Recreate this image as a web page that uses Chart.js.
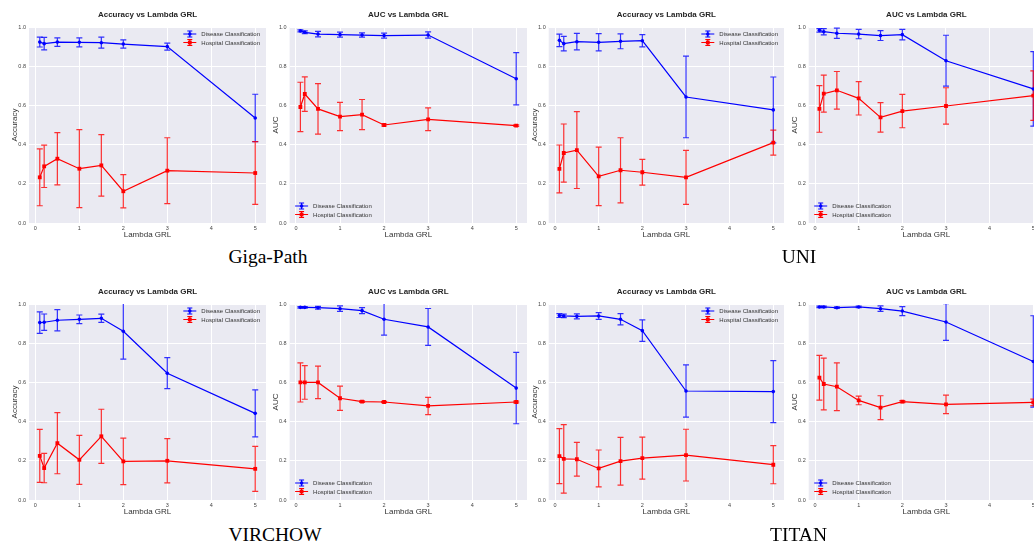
<!DOCTYPE html>
<html>
<head>
<meta charset="utf-8">
<script src="https://cdn.jsdelivr.net/npm/chart.js@4.4.0/dist/chart.umd.min.js"></script>
<style>
  html, body { margin: 0; padding: 0; background: #fff; overflow: hidden; width: 1034px; height: 543px; position: relative; }
  canvas { position: absolute; }
  .model { position: absolute; font-family: "Liberation Serif", serif; font-size: 19.5px; line-height: 20px; color: #000; transform: translateX(-50%); white-space: nowrap; }
</style>
</head>
<body>
<canvas id="p0" width="270" height="245"></canvas>
<canvas id="p1" width="270" height="245"></canvas>
<canvas id="p2" width="270" height="245"></canvas>
<canvas id="p3" width="270" height="245"></canvas>
<canvas id="p4" width="270" height="245"></canvas>
<canvas id="p5" width="270" height="245"></canvas>
<canvas id="p6" width="270" height="245"></canvas>
<canvas id="p7" width="270" height="245"></canvas>
<div class="model" style="left:268px;top:246.7px">Giga-Path</div>
<div class="model" style="left:799px;top:246.7px">UNI</div>
<div class="model" style="left:275px;top:525px">VIRCHOW</div>
<div class="model" style="left:798.5px;top:525px">TITAN</div>
<script>
// ── Data ──────────────────────────────────────────────────────────────────────
const lambdas     = [0.1, 0.2, 0.5, 1, 1.5, 2, 3, 5];
const seriesNames = ['Disease Classification', 'Hospital Classification'];
const xTicks      = [0, 1, 2, 3, 4, 5];
const yTicks      = [0, 0.2, 0.4, 0.6, 0.8, 1.0];

// Giga-Path
const gigaAccDisease     = [0.923, 0.915, 0.923, 0.922, 0.920, 0.913, 0.900, 0.536];
const gigaAccDiseaseErr  = [0.025, 0.032, 0.022, 0.023, 0.028, 0.021, 0.018, 0.121];
const gigaAccHospital    = [0.233, 0.289, 0.328, 0.277, 0.294, 0.162, 0.267, 0.255];
const gigaAccHospitalErr = [0.145, 0.108, 0.133, 0.199, 0.157, 0.085, 0.168, 0.160];
const gigaAucDisease     = [0.980, 0.973, 0.964, 0.961, 0.959, 0.956, 0.959, 0.736];
const gigaAucDiseaseErr  = [0.005, 0.007, 0.014, 0.013, 0.011, 0.013, 0.016, 0.133];
const gigaAucHospital    = [0.592, 0.658, 0.582, 0.543, 0.553, 0.500, 0.529, 0.497];
const gigaAucHospitalErr = [0.126, 0.088, 0.129, 0.072, 0.077, 0.005, 0.058, 0.004];

// UNI
const uniAccDisease      = [0.932, 0.915, 0.925, 0.922, 0.927, 0.930, 0.643, 0.577];
const uniAccDiseaseErr   = [0.032, 0.037, 0.042, 0.044, 0.038, 0.031, 0.208, 0.168];
const uniAccHospital     = [0.276, 0.357, 0.372, 0.238, 0.269, 0.259, 0.233, 0.410];
const uniAccHospitalErr  = [0.122, 0.148, 0.196, 0.149, 0.166, 0.066, 0.138, 0.064];
const uniAucDisease      = [0.983, 0.976, 0.968, 0.964, 0.956, 0.961, 0.828, 0.684];
const uniAucDiseaseErr   = [0.009, 0.016, 0.026, 0.024, 0.025, 0.027, 0.130, 0.190];
const uniAucHospital     = [0.582, 0.660, 0.677, 0.636, 0.539, 0.571, 0.597, 0.650];
const uniAucHospitalErr  = [0.119, 0.094, 0.096, 0.085, 0.075, 0.085, 0.093, 0.126];

// VIRCHOW
const virAccDisease      = [0.905, 0.907, 0.917, 0.922, 0.927, 0.861, 0.647, 0.442];
const virAccDiseaseErr   = [0.055, 0.042, 0.054, 0.022, 0.021, 0.142, 0.079, 0.120];
const virAccHospital     = [0.225, 0.163, 0.290, 0.205, 0.325, 0.197, 0.200, 0.159];
const virAccHospitalErr  = [0.135, 0.075, 0.156, 0.125, 0.138, 0.119, 0.113, 0.115];
const virAucDisease      = [0.983, 0.983, 0.981, 0.976, 0.966, 0.922, 0.883, 0.571];
const virAucDiseaseErr   = [0.004, 0.004, 0.007, 0.014, 0.015, 0.081, 0.094, 0.182];
const virAucHospital     = [0.600, 0.600, 0.600, 0.519, 0.502, 0.500, 0.480, 0.500];
const virAucHospitalErr  = [0.100, 0.086, 0.083, 0.062, 0.004, 0.003, 0.044, 0.004];

// TITAN
const titAccDisease      = [0.941, 0.939, 0.937, 0.939, 0.922, 0.864, 0.556, 0.553];
const titAccDiseaseErr   = [0.010, 0.009, 0.013, 0.017, 0.029, 0.055, 0.133, 0.158];
const titAccHospital     = [0.224, 0.210, 0.208, 0.161, 0.198, 0.214, 0.229, 0.180];
const titAccHospitalErr  = [0.140, 0.175, 0.086, 0.094, 0.122, 0.107, 0.132, 0.097];
const titAucDisease      = [0.985, 0.985, 0.981, 0.985, 0.976, 0.964, 0.908, 0.707];
const titAucDiseaseErr   = [0.004, 0.004, 0.004, 0.004, 0.014, 0.023, 0.094, 0.233];
const titAucHospital     = [0.624, 0.592, 0.578, 0.508, 0.471, 0.502, 0.488, 0.498];
const titAucHospitalErr  = [0.114, 0.132, 0.122, 0.022, 0.061, 0.005, 0.047, 0.017];

// ── Panels ────────────────────────────────────────────────────────────────────
const panels = [
  { metric: 'Accuracy', d: gigaAccDisease, de: gigaAccDiseaseErr, h: gigaAccHospital, he: gigaAccHospitalErr },
  { metric: 'AUC',      d: gigaAucDisease, de: gigaAucDiseaseErr, h: gigaAucHospital, he: gigaAucHospitalErr },
  { metric: 'Accuracy', d: uniAccDisease,  de: uniAccDiseaseErr,  h: uniAccHospital,  he: uniAccHospitalErr },
  { metric: 'AUC',      d: uniAucDisease,  de: uniAucDiseaseErr,  h: uniAucHospital,  he: uniAucHospitalErr },
  { metric: 'Accuracy', d: virAccDisease,  de: virAccDiseaseErr,  h: virAccHospital,  he: virAccHospitalErr },
  { metric: 'AUC',      d: virAucDisease,  de: virAucDiseaseErr,  h: virAucHospital,  he: virAucHospitalErr },
  { metric: 'Accuracy', d: titAccDisease,  de: titAccDiseaseErr,  h: titAccHospital,  he: titAccHospitalErr },
  { metric: 'AUC',      d: titAucDisease,  de: titAucDiseaseErr,  h: titAucHospital,  he: titAucHospitalErr },
];

// canvas placement per column / row
const colFrames = [
  { left: 0,   padL: 7,   padR: 4 },
  { left: 262, padL: 5.6, padR: 5 },
  { left: 520, padL: 6.7, padR: 6 },
  { left: 780, padL: 6.7, padR: 6 },
];
const rowTops = [0, 277];

const FONT = '"Liberation Sans", Arial, sans-serif';
const BLUE = '#0000ff';
const RED  = '#ff0000';

// ── Plugins ───────────────────────────────────────────────────────────────────
const panelBg = {
  id: 'panelBg',
  beforeDraw(chart) {
    const { ctx, chartArea: a } = chart;
    ctx.save();
    ctx.fillStyle = '#eaeaf2';
    ctx.fillRect(a.left, a.top, a.width, a.height);
    ctx.restore();
  },
};

const errorBars = {
  id: 'errorBars',
  beforeDatasetsDraw(chart) {
    const { ctx, chartArea: a, scales: { x, y } } = chart;
    ctx.save();
    ctx.beginPath();
    ctx.rect(a.left, a.top, a.width, a.height);
    ctx.clip();
    chart.data.datasets.forEach(ds => {
      ctx.strokeStyle = ds.borderColor;
      ctx.globalAlpha = 0.8;
      ctx.lineWidth = 1.2;
      ds.data.forEach((p, i) => {
        const px  = x.getPixelForValue(p.x);
        const top = y.getPixelForValue(p.y + ds.errors[i]);
        const bot = y.getPixelForValue(p.y - ds.errors[i]);
        ctx.beginPath();
        ctx.moveTo(px, top);     ctx.lineTo(px, bot);
        ctx.moveTo(px - 3, top); ctx.lineTo(px + 3, top);
        ctx.moveTo(px - 3, bot); ctx.lineTo(px + 3, bot);
        ctx.stroke();
      });
    });
    ctx.restore();
  },
};

const mplLegend = {
  id: 'mplLegend',
  afterDraw(chart, args, opts) {
    const { ctx, chartArea: a } = chart;
    const sets = chart.data.datasets;
    ctx.save();
    ctx.font = '6px ' + FONT;
    const w = Math.max(...sets.map(d => ctx.measureText(d.label).width));
    let tx, y0;
    if (opts.corner === 'upper right') { tx = a.right - 6 - w; y0 = a.top + 7; }
    else { tx = a.left + 23.5; y0 = a.bottom - 17; }
    sets.forEach((ds, i) => {
      const ly = y0 + i * 8.5;
      const x1 = tx - 18, x2 = tx - 5, xm = (x1 + x2) / 2;
      ctx.strokeStyle = ds.borderColor;
      ctx.fillStyle = ds.borderColor;
      ctx.lineWidth = 1.2;
      ctx.beginPath();
      ctx.moveTo(x1, ly); ctx.lineTo(x2, ly);
      ctx.moveTo(xm, ly - 3); ctx.lineTo(xm, ly + 3);
      ctx.moveTo(xm - 2.5, ly - 3); ctx.lineTo(xm + 2.5, ly - 3);
      ctx.moveTo(xm - 2.5, ly + 3); ctx.lineTo(xm + 2.5, ly + 3);
      ctx.stroke();
      if (ds.pointStyle === 'rect') ctx.fillRect(xm - 1.9, ly - 1.9, 3.8, 3.8);
      else { ctx.beginPath(); ctx.arc(xm, ly, 1.8, 0, Math.PI * 2); ctx.fill(); }
      ctx.fillStyle = '#333';
      ctx.textBaseline = 'middle';
      ctx.fillText(ds.label, tx, ly + 0.5);
    });
    ctx.restore();
  },
};

// ── Build charts ──────────────────────────────────────────────────────────────
panels.forEach((p, k) => {
  const f = colFrames[k % 4];
  const top = rowTops[Math.floor(k / 4)];
  const canvas = document.getElementById('p' + k);
  canvas.style.left = f.left + 'px';
  canvas.style.top = top + 'px';

  const tickStyle = { color: '#444', font: { family: FONT, size: 5.5 } };
  const gridStyle = { color: '#ffffff', lineWidth: 1, drawTicks: false };

  new Chart(canvas, {
    type: 'line',
    data: {
      datasets: [
        {
          label: seriesNames[0],
          data: lambdas.map((x, i) => ({ x, y: p.d[i] })),
          errors: p.de,
          borderColor: BLUE, backgroundColor: BLUE,
          borderWidth: 1.2, pointStyle: 'circle', pointRadius: 1.8, pointBorderWidth: 0,
        },
        {
          label: seriesNames[1],
          data: lambdas.map((x, i) => ({ x, y: p.h[i] })),
          errors: p.he,
          borderColor: RED, backgroundColor: RED,
          borderWidth: 1.2, pointStyle: 'rect', pointRadius: 2.7, pointBorderWidth: 0,
        },
      ],
    },
    options: {
      responsive: false,
      animation: false,
      layout: { padding: { left: f.padL, right: f.padR, top: 0, bottom: 4 } },
      plugins: {
        legend: { display: false },
        tooltip: { enabled: false },
        title: {
          display: true,
          fullSize: false,
          text: p.metric + ' vs Lambda GRL',
          color: '#262626',
          font: { family: FONT, size: 8, weight: 'bold' },
          padding: { top: 10.2, bottom: 7.2 },
        },
        mplLegend: { corner: p.metric === 'Accuracy' ? 'upper right' : 'lower left' },
      },
      scales: {
        x: {
          type: 'linear', min: -0.145, max: 5.245,
          afterBuildTicks: s => { s.ticks = xTicks.map(v => ({ value: v })); },
          afterFit: s => { s.height = 18; },
          grid: gridStyle,
          border: { display: false },
          ticks: { ...tickStyle, padding: 2, callback: v => String(v) },
          title: { display: true, text: 'Lambda GRL', color: '#333', font: { family: FONT, size: 8 }, padding: { top: 0, bottom: 1 } },
        },
        y: {
          min: 0, max: 1,
          afterBuildTicks: s => { s.ticks = yTicks.map(v => ({ value: v })); },
          afterFit: s => { s.width = 22; },
          grid: gridStyle,
          border: { display: false },
          ticks: { ...tickStyle, padding: 3, callback: v => v.toFixed(1) },
          title: { display: true, text: p.metric, color: '#333', font: { family: FONT, size: 8 }, padding: { top: 3.2, bottom: 0 } },
        },
      },
    },
    plugins: [panelBg, errorBars, mplLegend],
  });
});
</script>
</body>
</html>
